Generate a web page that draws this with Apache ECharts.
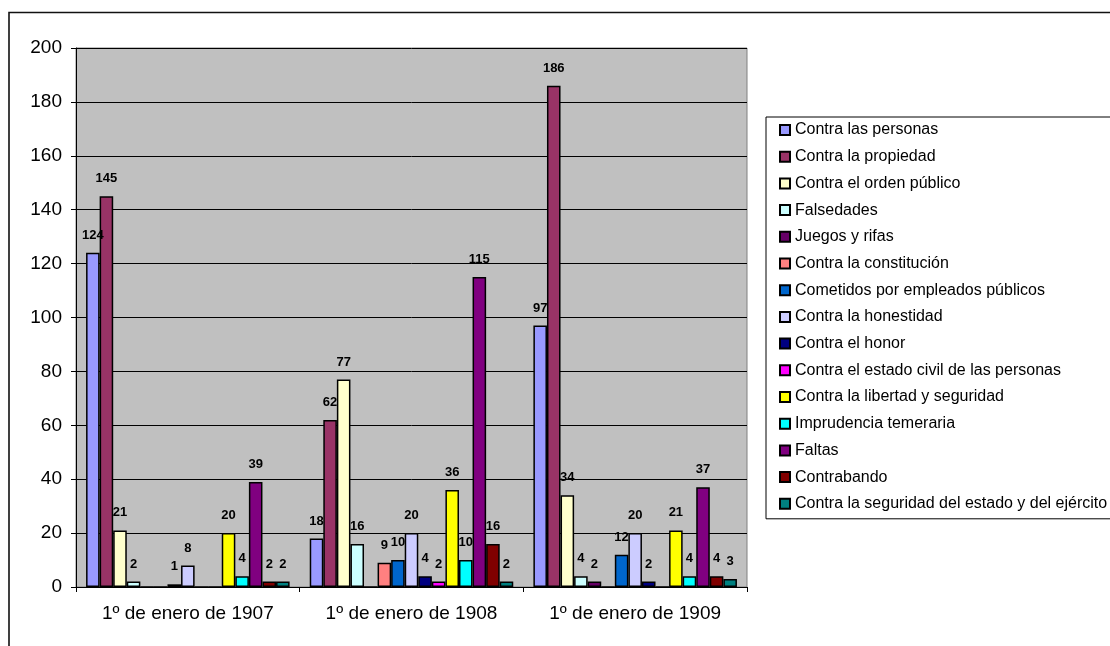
<!DOCTYPE html>
<html>
<head>
<meta charset="utf-8">
<script src="https://cdn.jsdelivr.net/npm/echarts@6/dist/echarts.min.js"></script>
<style>
  html, body { margin: 0; padding: 0; background: #ffffff; }
  #chart { width: 1110px; height: 646px; }
</style>
</head>
<body>
<div id="chart"></div>
<script>
// Fechas del recuento
const categories = ['1º de enero de 1907', '1º de enero de 1908', '1º de enero de 1909'];

// Delitos por tipo (1907, 1908, 1909)
const contraLasPersonas      = [124, 18, 97];
const contraLaPropiedad      = [145, 62, 186];
const contraElOrdenPublico   = [21, 77, 34];
const falsedades             = [2, 16, 4];
const juegosYRifas           = [0, 0, 2];
const contraLaConstitucion   = [0, 9, 0];
const cometidosPorEmpleados  = [1, 10, 12];
const contraLaHonestidad     = [8, 20, 20];
const contraElHonor          = [0, 4, 2];
const contraEstadoCivil      = [0, 2, 0];
const contraLibertad         = [20, 36, 21];
const imprudenciaTemeraria   = [4, 10, 4];
const faltas                 = [39, 115, 37];
const contrabando            = [2, 16, 4];
const contraSeguridadEstado  = [2, 2, 3];

const seriesNames = [
  'Contra las personas', 'Contra la propiedad', 'Contra el orden público', 'Falsedades',
  'Juegos y rifas', 'Contra la constitución', 'Cometidos por empleados públicos',
  'Contra la honestidad', 'Contra el honor', 'Contra el estado civil de las personas',
  'Contra la libertad y seguridad', 'Imprudencia temeraria', 'Faltas', 'Contrabando',
  'Contra la seguridad del estado y del ejército'
];
const seriesValues = [
  contraLasPersonas, contraLaPropiedad, contraElOrdenPublico, falsedades,
  juegosYRifas, contraLaConstitucion, cometidosPorEmpleados, contraLaHonestidad,
  contraElHonor, contraEstadoCivil, contraLibertad, imprudenciaTemeraria,
  faltas, contrabando, contraSeguridadEstado
];
const yTicks = [0, 20, 40, 60, 80, 100, 120, 140, 160, 180, 200];

const palette = [
  '#9999FF', '#993366', '#FFFFCC', '#CCFFFF', '#660066', '#FF8080', '#0066CC',
  '#CCCCFF', '#000080', '#FF00FF', '#FFFF00', '#00FFFF', '#800080', '#800000', '#008080'
];

const FONT = "'Liberation Sans', Arial, sans-serif";

const chart = echarts.init(document.getElementById('chart'), null, { renderer: 'canvas' });

const series = seriesNames.map((name, i) => ({
  name: name,
  type: 'bar',
  data: seriesValues[i],
  barGap: '0%',
  barCategoryGap: '9%',
  itemStyle: { color: palette[i], borderColor: '#000000', borderWidth: 1.5 },
  label: {
    show: true,
    position: 'top',
    distance: 11,
    fontFamily: FONT,
    fontSize: 13,
    fontWeight: 'bold',
    color: '#000000',
    formatter: p => (p.value === 0 ? '' : String(p.value))
  },
  emphasis: { disabled: true },
  animation: false
}));

chart.setOption({
  animation: false,
  backgroundColor: '#ffffff',
  color: palette,
  textStyle: { fontFamily: FONT },
  graphic: [{
    type: 'rect',
    shape: { x: 9, y: 12.5, width: 1200, height: 700 },
    style: { fill: 'none', stroke: '#111111', lineWidth: 1.6 },
    silent: true,
    z: -10
  }],
  grid: {
    left: 76, right: 363, top: 48, bottom: 59,
    show: true,
    backgroundColor: '#C0C0C0',
    borderColor: '#808080',
    borderWidth: 1
  },
  legend: {
    orient: 'vertical',
    left: 766,
    top: 117,
    padding: [5, 40, 7, 13],
    itemGap: 10.7,
    itemWidth: 10,
    itemHeight: 10,
    itemTextGap: 5,
    icon: 'rect',
    borderColor: '#000000',
    borderWidth: 1,
    backgroundColor: '#ffffff',
    selectedMode: false,
    textStyle: { fontFamily: FONT, fontSize: 16, color: '#000000', lineHeight: 16 },
    data: seriesNames
  },
  xAxis: {
    type: 'category',
    data: categories,
    axisLine: { lineStyle: { color: '#000000', width: 1 } },
    axisTick: { show: true, length: 5, lineStyle: { color: '#000000' } },
    axisLabel: { fontFamily: FONT, fontSize: 19, color: '#000000', margin: 17 },
    splitLine: { show: false }
  },
  yAxis: {
    type: 'value',
    min: yTicks[0],
    max: yTicks[yTicks.length - 1],
    interval: yTicks[1] - yTicks[0],
    axisLine: { show: true, lineStyle: { color: '#000000', width: 1 } },
    axisTick: { show: true, length: 5, lineStyle: { color: '#000000' } },
    axisLabel: { fontFamily: FONT, fontSize: 19, color: '#000000', margin: 14 },
    splitLine: { show: true, lineStyle: { color: '#000000', width: 1 } }
  },
  series: series
});
</script>
</body>
</html>
